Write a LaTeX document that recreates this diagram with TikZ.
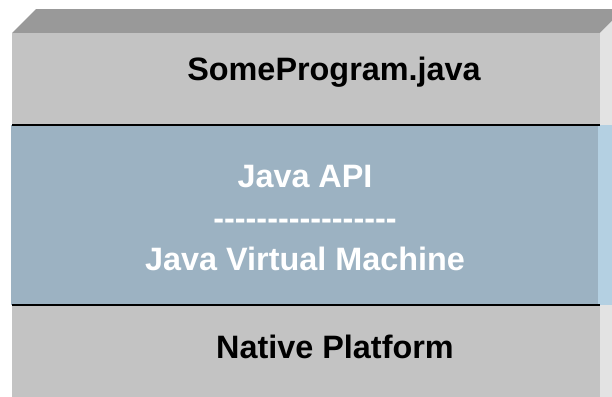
\documentclass[tikz,border=0pt]{standalone}
\usepackage{fontspec}
\setmainfont{Liberation Sans}
\definecolor{bevel}{HTML}{999999}
\definecolor{frontgray}{HTML}{C3C3C3}
\definecolor{sidegray}{HTML}{E3E3E3}
\definecolor{frontblue}{HTML}{9CB2C2}
\definecolor{sideblue}{HTML}{B4D0E2}
\tikzset{
  lbl/.style={inner sep=0pt, anchor=base, font=\fontsize{32.5}{38}\selectfont\bfseries},
  sep/.style={draw=black, line width=2bp}
}
\begin{document}
\begin{tikzpicture}[x=1bp,y=-1bp]
\useasboundingbox (0,0) rectangle (612,396);
\fill[white] (0,0) rectangle (612,396);
\clip (0,0) rectangle (612,396);
% 3D box
\fill[bevel] (12,33) -- (36,9) -- (624,9) -- (600,33) -- cycle;
\fill[sidegray] (600,33) -- (624,9) -- (624,400) -- (600,400) -- cycle;
\fill[frontgray] (12,33) rectangle (600,400);
% blue band
\fill[frontblue] (11,125) rectangle (598,305);
\fill[sideblue] (598,125) rectangle (612,305);
\draw[sep] (12,125) -- (600,125);
\draw[sep] (12,305) -- (600,305);
% texts
\node[lbl, text=black] (prog) at (334,80) {SomeProgram.java};
\node[lbl, text=white] (api) at (305,187) {Java API};
\node[lbl, text=white] (dash) at (305,229) {-{}-{}-{}-{}-{}-{}-{}-{}-{}-{}-{}-{}-{}-{}-{}-{}-};
\node[lbl, text=white] (jvm) at (305,270) {Java Virtual Machine};
\node[lbl, text=black] (native) at (335,358) {Native Platform};
\end{tikzpicture}
\end{document}
